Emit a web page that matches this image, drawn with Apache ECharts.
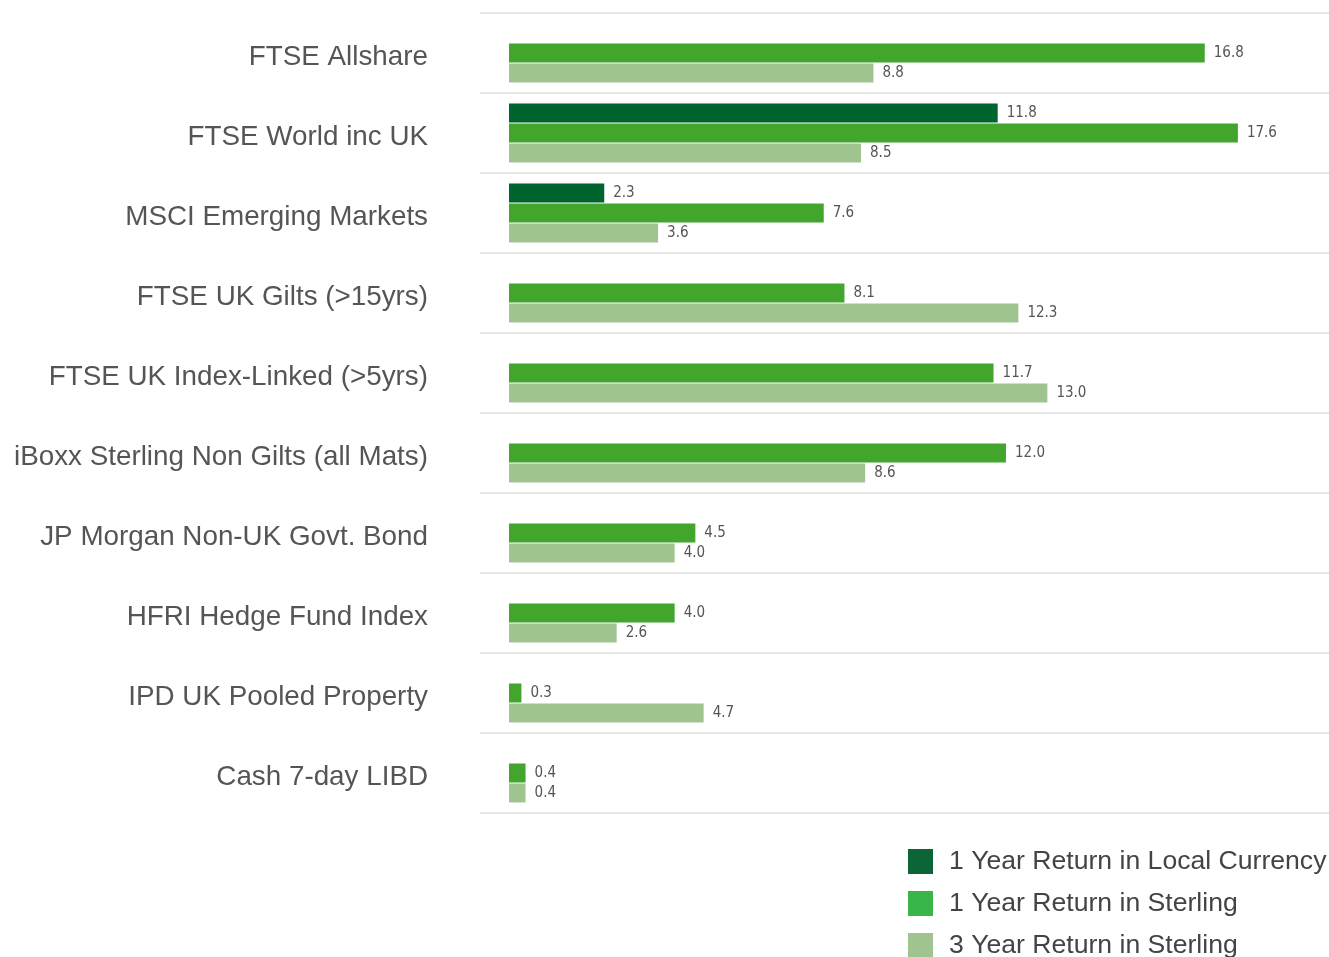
<!DOCTYPE html>
<html>
<head>
<meta charset="utf-8">
<script src="https://cdn.jsdelivr.net/npm/echarts@6/dist/echarts.min.js"></script>
<style>html,body{margin:0;padding:0;background:#fff;}#c{width:1329px;height:957px;}</style>
</head>
<body>
<div id="c"></div>
<script>
var categories = ['FTSE Allshare','FTSE World inc UK','MSCI Emerging Markets','FTSE UK Gilts (>15yrs)','FTSE UK Index-Linked (>5yrs)','iBoxx Sterling Non Gilts (all Mats)','JP Morgan Non-UK Govt. Bond','HFRI Hedge Fund Index','IPD UK Pooled Property','Cash 7-day LIBD'];
var seriesNames = ['1 Year Return in Local Currency','1 Year Return in Sterling','3 Year Return in Sterling'];
var localCcy = [null, 11.8, 2.3, null, null, null, null, null, null, null];
var sterling1y = [16.8, 17.6, 7.6, 8.1, 11.7, 12.0, 4.5, 4.0, 0.3, 0.4];
var sterling3y = [8.8, 8.5, 3.6, 12.3, 13.0, 8.6, 4.0, 2.6, 4.7, 0.4];

var barColors = ['#01632d', '#43a62c', '#a0c490'];
var legendColors = ['#0b6537', '#3ab54a', '#a0c490'];

var chart = echarts.init(document.getElementById('c'));
function mk(i, data) {
  return {
    name: seriesNames[i], type: 'bar', data: data,
    barWidth: 19, barGap: '5%', barCategoryGap: '25%',
    itemStyle: { color: barColors[i] },
    label: { show: true, position: 'right', distance: 9, formatter: function(p){ return p.value == null ? '' : p.value.toFixed(1); },
      fontFamily: '"DejaVu Sans Condensed", "Liberation Sans", sans-serif', fontSize: 15, color: '#555' }
  };
}
chart.setOption({
  animation: false,
  grid: { left: 480, right: 0, top: 13, bottom: 144, containLabel: false },
  legend: {
    orient: 'vertical', left: 908, top: 848, height: 130, padding: 0,
    itemWidth: 25, itemHeight: 25, itemGap: 15,
    icon: 'rect',
    textStyle: { fontFamily: 'Liberation Sans', fontSize: 26.6, color: '#444', padding: [0,0,0,11], lineHeight: 25 },
    data: seriesNames.map(function(n, i){ return { name: n, itemStyle: { color: legendColors[i] } }; })
  },
  xAxis: { type: 'value', min: -0.7, max: 19.8, show: false },
  yAxis: {
    type: 'category', data: categories, inverse: true,
    axisLine: { show: false }, axisTick: { show: false },
    axisLabel: { margin: 52, color: '#555',
      formatter: function(v){ return '{a|' + v + '}'; },
      rich: { a: { fontFamily: 'Liberation Sans', fontSize: 27.8, color: '#555', padding: [8,0,0,0] } } },
    splitLine: { show: true, interval: 0, lineStyle: { color: '#e6e6e6', width: 2 } }
  },
  series: [mk(0, localCcy), mk(1, sterling1y), mk(2, sterling3y)]
});
</script>
</body>
</html>
